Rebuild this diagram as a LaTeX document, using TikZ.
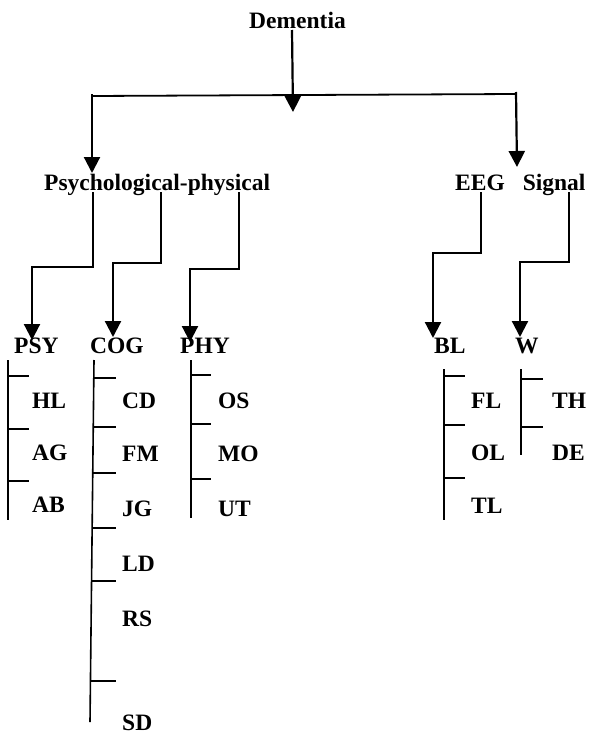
\documentclass[tikz,border=0pt]{standalone}
\usepackage{fontspec}
\setmainfont{Liberation Serif}
\usetikzlibrary{arrows.meta}
\begin{document}
\begin{tikzpicture}[x=1pt,y=-1pt,
  lbl/.style={anchor=base west,inner sep=0pt,font=\fontsize{23.5}{28}\selectfont\bfseries},
  arr/.style={line width=2.2pt,-{Triangle[width=16pt,length=16pt]}},
  ln/.style={line width=1.8pt},
  br/.style={line width=1.6pt}]
\useasboundingbox (0,0) rectangle (589,736);

% labels
\node[lbl] (dem) at (249,28) {Dementia};
\node[lbl] (pp) at (44,190) {Psychological-physical};
\node[lbl] (eeg) at (455,190) {EEG\hspace{18pt}Signal};
\node[lbl] (psy) at (14,353) {PSY};
\node[lbl] (cog) at (90,353) {COG};
\node[lbl] (phy) at (180,353) {PHY};
\node[lbl] (bl) at (434,353) {BL};
\node[lbl] (w) at (515,353) {W};

\node[lbl] (hl) at (32,408) {HL};
\node[lbl] (ag) at (32,460) {AG};
\node[lbl] (ab) at (32,512) {AB};

\node[lbl] (cd) at (122,408) {CD};
\node[lbl] (fm) at (122,461) {FM};
\node[lbl] (jg) at (122,516) {JG};
\node[lbl] (ld) at (122,571) {LD};
\node[lbl] (rs) at (122,626) {RS};
\node[lbl] (sd) at (122,730) {SD};

\node[lbl] (os) at (218,408) {OS};
\node[lbl] (mo) at (218,461) {MO};
\node[lbl] (ut) at (218,516) {UT};

\node[lbl] (fl) at (471,408) {FL};
\node[lbl] (ol) at (471,460) {OL};
\node[lbl] (tl) at (471,513) {TL};

\node[lbl] (th) at (552,408) {TH};
\node[lbl] (de) at (552,460) {DE};

% top level connectors
\coordinate (d0) at (292,30);
\coordinate (d1) at (293,112);
\coordinate (hL) at (92,96);
\coordinate (hR) at (516,94);
\draw[arr] (d0) -- (d1);
\draw[ln] (hL) -- (hR);
\draw[arr] (92,94) -- (92,173);
\draw[arr] (516,92) -- (517,167);

% elbow connectors
\draw[arr] (93,192) -- (93,267) -- (32,267) -- (32,340);
\draw[arr] (161,192) -- (161,263) -- (113,263) -- (113,337);
\draw[arr] (239,192) -- (239,269) -- (190,269) -- (190,342);
\draw[arr] (481,192) -- (481,253) -- (433,253) -- (433,338);
\draw[arr] (569,192) -- (569,262) -- (520,262) -- (520,337);

% brackets
\draw[br] (8,360) -- (8,520);
\foreach \y in {376,429,481} \draw[br] (8,\y) -- (29,\y);

\draw[br] (94,360) -- (90,722);
\foreach \y in {378,427,473,528,581,681} \draw[br] ({94-4*(\y-360)/362},\y) -- (116,\y);

\draw[br] (191,360) -- (191,518);
\foreach \y in {375,424,479} \draw[br] (191,\y) -- (211,\y);

\draw[br] (444,369) -- (444,520);
\foreach \y in {376,425,478} \draw[br] (444,\y) -- (465,\y);

\draw[br] (521,369) -- (521,455);
\foreach \y in {379,427} \draw[br] (521,\y) -- (543,\y);
\end{tikzpicture}
\end{document}
